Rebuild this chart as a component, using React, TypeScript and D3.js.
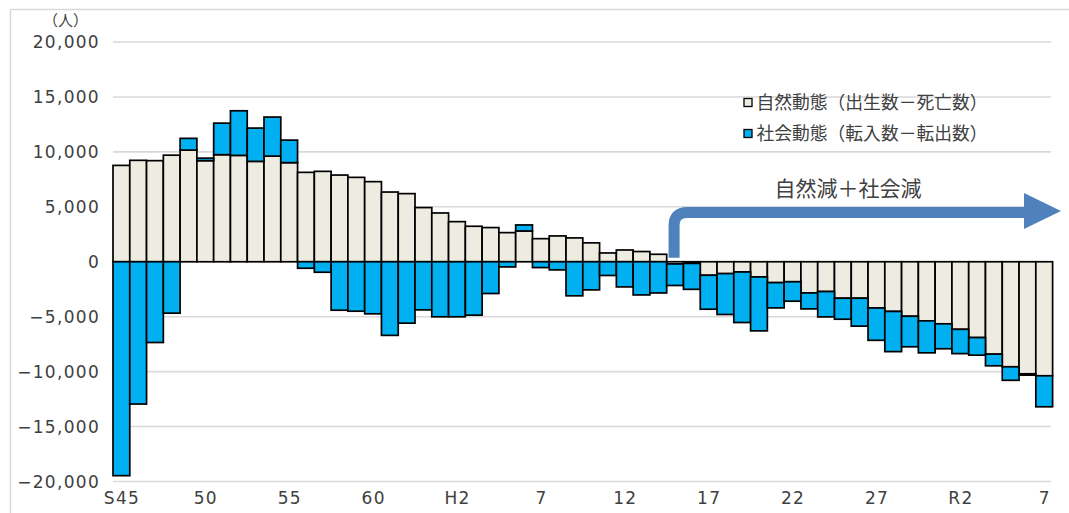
import React from "react";
import * as d3 from "d3";

const years = [
  "S45","S46","S47","S48","S49","S50","S51","S52","S53","S54","S55","S56","S57","S58","S59","S60","S61","S62","S63",
  "H1","H2","H3","H4","H5","H6","H7","H8","H9","H10","H11","H12","H13","H14","H15","H16","H17","H18","H19","H20",
  "H21","H22","H23","H24","H25","H26","H27","H28","H29","H30",
  "R1","R2","R3","R4","R5","R6","R7",
];

const tickYears = ["S45","S50","S55","S60","H2","H7","H12","H17","H22","H27","R2","R7"];
const tickLabels = ["S45","50","55","60","H2","7","12","17","22","27","R2","7"];

const natural = [
  8770, 9230, 9200, 9700, 10160, 9200, 9745, 9680, 9136, 9620, 9020, 8136, 8227, 7890, 7680, 7290, 6345,
  6200, 4930, 4440, 3650, 3230, 3110, 2650, 2800, 2100, 2350, 2170, 1720, 800, 1070, 930, 680,
  -200, -150, -1230, -1080, -930, -1380, -1900, -1820, -2840, -2710, -3320, -3320, -4210, -4520, -4960,
  -5380, -5650, -6150, -6900, -8410, -9560, -10200, -10380,
];

const social = [
  -19470, -12950, -7350, -4680, 1070, 230, 2870, 4060, 3030, 3550, 2050, -590, -955, -4410, -4500, -4740, -6700,
  -5590, -4380, -5010, -5010, -4860, -2890, -470, 550, -530, -740, -3100, -2560, -1250, -2290, -3020, -2840,
  -1960, -2360, -3090, -3720, -4600, -4910, -2300, -1770, -1450, -2310, -1910, -2540, -2940, -3660, -2780,
  -2910, -2270, -2210, -1600, -1060, -1230, -120, -2820,
];

const yTicks = [-20000, -15000, -10000, -5000, 0, 5000, 10000, 15000, 20000];

const seriesNames = ["自然動態（出生数－死亡数）", "社会動態（転入数－転出数）"];
const annotation = "自然減＋社会減";
const unitLabel = "（人）";

const W = 1069;
const H = 513;
const colors = ["#EEECE1", "#00B0F0"];
const textColor = "#404040";
const gridColor = "#D9D9D9";
const arrowColor = "#4F81BD";

export default function App() {
  const x = d3.scaleBand<string>().domain(years).range([113, 1052.6]).padding(0);
  const y = d3.scaleLinear().domain([-20000, 20000]).range([481.5, 42]);

  const rows = years.map((yr, i) => ({ year: yr, natural: natural[i], social: social[i] }));
  const stack = d3
    .stack<any>()
    .keys(["natural", "social"])
    .offset(d3.stackOffsetDiverging);
  const series = stack(rows);

  const fmt = d3.format(",");
  const latin = "'DejaVu Sans', Verdana, sans-serif";
  const cjk = "'Noto Sans CJK JP', 'Noto Sans', sans-serif";

  // arrow geometry
  const ax = x("H15")! + x.bandwidth() / 2 - 1;
  const ayTop = 212.5;
  const ayBottom = y(0) - 4;
  const r = 13;
  const axEnd = 1024;
  const arrowPath = `M ${ax} ${ayBottom} L ${ax} ${ayTop + r} Q ${ax} ${ayTop} ${ax + r} ${ayTop} L ${axEnd + 1} ${ayTop}`;

  return (
    <svg
      width={W}
      height={H}
      style={{ position: "absolute", left: 0, top: 0, background: "#fff" }}
    >
      <rect x={10.5} y={9.5} width={1200} height={600} fill="#fff" stroke={gridColor} strokeWidth={1.5} />

      {yTicks.map((t) => (
        <line key={"g" + t} x1={113} x2={1051} y1={y(t)} y2={y(t)} stroke={gridColor} strokeWidth={1.6} />
      ))}

      {yTicks.map((t) => (
        <text
          key={"t" + t}
          x={100}
          y={y(t)}
          dy="0.36em"
          textAnchor="end"
          fontFamily={latin}
          fontSize={17}
          letterSpacing={1.3}
          fill={textColor}
        >
          {fmt(t)}
        </text>
      ))}

      <text x={43} y={26} fontFamily={cjk} fontSize={15} fill={textColor}>
        {unitLabel}
      </text>

      {series.map((s, si) => (
        <g key={si} fill={colors[si]} stroke="#000" strokeWidth={1.7}>
          {s.map((d: any, i: number) => {
            const y0 = y(Math.max(d[0], d[1]));
            const y1 = y(Math.min(d[0], d[1]));
            if (Math.abs(y1 - y0) < 0.01) return null;
            return (
              <rect
                key={i}
                x={x(years[i])!}
                y={y0}
                width={x.bandwidth()}
                height={y1 - y0}
              />
            );
          })}
        </g>
      ))}

      {tickYears.map((yr, i) => (
        <text
          key={"x" + yr}
          x={x(yr)! + x.bandwidth() / 2 + 0.6}
          y={498}
          dy="0.36em"
          textAnchor="middle"
          fontFamily={latin}
          fontSize={17}
          letterSpacing={1.3}
          fill={textColor}
        >
          {tickLabels[i]}
        </text>
      ))}

      {/* legend */}
      {seriesNames.map((name, i) => (
        <g key={name} transform={`translate(744, ${103 + i * 31})`}>
          <rect x={0} y={-4.5} width={8} height={8} fill={colors[i]} stroke="#000" strokeWidth={1.3} />
          <text
            x={12.5}
            y={0}
            dy="0.36em"
            fontFamily={cjk}
            fontSize={18}
            textLength={231}
            lengthAdjust="spacingAndGlyphs"
            fill={textColor}
          >
            {name}
          </text>
        </g>
      ))}

      {/* annotation arrow */}
      <path d={arrowPath} fill="none" stroke={arrowColor} strokeWidth={11} />
      <polygon
        points={`${axEnd},193 ${1061},${211} ${axEnd},229`}
        fill={arrowColor}
      />
      <text x={848} y={188} dy="0.36em" textAnchor="middle" fontFamily={cjk} fontSize={21} fill={textColor}>
        {annotation}
      </text>
    </svg>
  );
}
